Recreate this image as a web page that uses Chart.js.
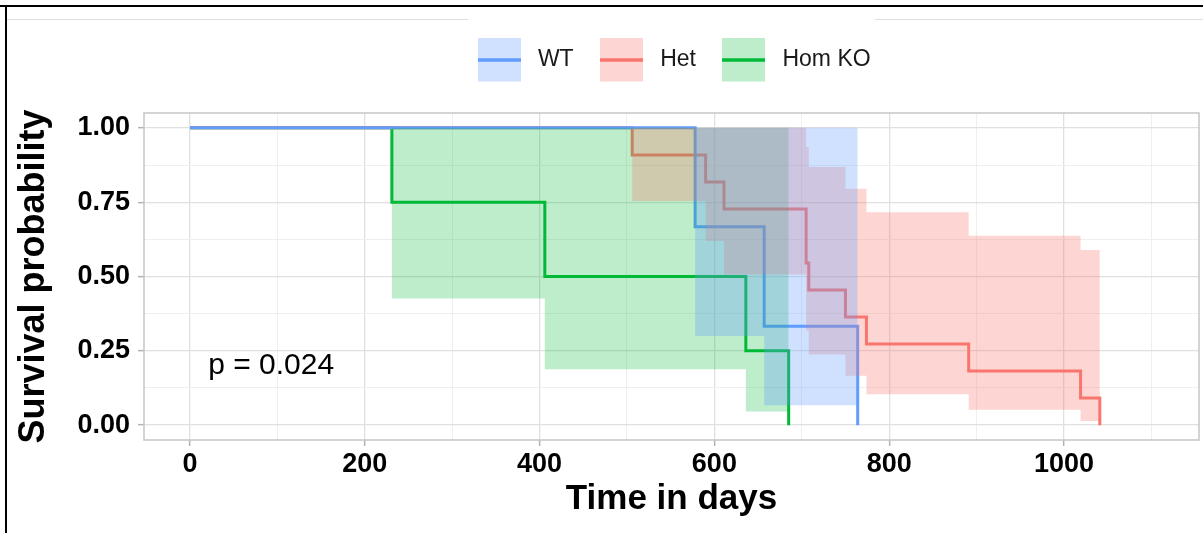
<!DOCTYPE html>
<html>
<head>
<meta charset="utf-8">
<title>Survival by genotype</title>
<script src="https://cdn.jsdelivr.net/npm/chart.js@4.4.1/dist/chart.umd.min.js"></script>
<style>
  html, body { margin: 0; padding: 0; background: #fff; }
  #wrap { position: relative; width: 1203px; height: 533px; overflow: hidden; }
  #km { position: absolute; left: 0; top: 0; }
  .frame-top { position: absolute; left: 0; top: 5px; width: 1203px; height: 2px; background: #000; }
  .frame-left { position: absolute; left: 5px; top: 5px; width: 2px; height: 528px; background: #000; }
  .rule { position: absolute; top: 19px; height: 1px; background: #dedede; }
</style>
</head>
<body>
<div id="wrap">
  <canvas id="km" width="1203" height="533"></canvas>
  <div class="rule" style="left:7px;width:461px"></div>
  <div class="rule" style="left:875px;width:328px"></div>
  <div class="frame-top"></div>
  <div class="frame-left"></div>
</div>
<script>
// ---- data -------------------------------------------------------------
const groups = ['WT', 'Het', 'Hom KO'];

// Kaplan-Meier estimates: event times (days) and survival after each time
const wtTime = [0, 578, 657, 764];
const wtSurv = [1, 0.667, 0.333, 0];
// 95% band holding on each interval [time[i], time[i+1])
const wtLower = [1, 0.300, 0.067];
const wtUpper = [1, 1, 1];

const hetTime = [0, 506, 590, 611, 705, 708, 750, 774, 891, 1019, 1041];
const hetSurv = [1, 0.909, 0.818, 0.727, 0.545, 0.455, 0.364, 0.273, 0.182, 0.091, 0];
const hetLower = [1, 0.754, 0.619, 0.507, 0.318, 0.238, 0.166, 0.104, 0.052, 0.014];
const hetUpper = [1, 1, 1, 1, 0.936, 0.868, 0.795, 0.716, 0.637, 0.589];

const homTime = [0, 231, 406, 636, 685];
const homSurv = [1, 0.75, 0.5, 0.25, 0];
const homLower = [1, 0.426, 0.188, 0.046];
const homUpper = [1, 1, 1, 1];

// axis breaks: labelled (major) and unlabelled (minor) grid positions
const xTickLabels = [0, 200, 400, 600, 800, 1000];
const xMinorBreaks = [100, 300, 500, 700, 900, 1100];
const yTickLabels = ['0.00', '0.25', '0.50', '0.75', '1.00'];

const pValueText = 'p = 0.024';
const pValueAt = [20.8, 0.2];

// ---- styling ------------------------------------------------------------
const FONT = "'Liberation Sans', Arial, Helvetica, sans-serif";
const lineColors = ['#619CFF', '#F8766D', '#00BA38'];
const bandColors = ['rgba(97,156,255,0.3)', 'rgba(248,118,109,0.3)', 'rgba(0,186,56,0.26)'];
const GRID_MAJOR = '#e0e0e0';
const GRID_MINOR = '#efefef';
const TICK_MARK = '#b3b3b3';

const series = [
  { time: wtTime, surv: wtSurv, lower: wtLower, upper: wtUpper },
  { time: hetTime, surv: hetSurv, lower: hetLower, upper: hetUpper },
  { time: homTime, surv: homSurv, lower: homLower, upper: homUpper }
];

function stepPoints(t, v) {
  return t.map((x, i) => ({ x: x, y: v[i] }));
}
// band values are per interval; the last interval is closed at the final event time
function bandPoints(t, b) {
  const pts = b.map((y, i) => ({ x: t[i], y: y }));
  pts.push({ x: t[t.length - 1], y: b[b.length - 1] });
  return pts;
}

// curves sit underneath the translucent bands; WT curve on top of the others
const datasets = [];
series.forEach((s, i) => {
  datasets.push({
    label: groups[i],
    data: stepPoints(s.time, s.surv),
    stepped: true,
    borderColor: lineColors[i],
    borderWidth: 3,
    pointRadius: 0,
    fill: false,
    order: 3 + i,
    xAxisID: 'x', yAxisID: 'y'
  });
});
// bands: Hom KO painted first, WT last
series.forEach((s, i) => {
  datasets.push({
    label: groups[i] + ' upper',
    data: bandPoints(s.time, s.upper),
    stepped: true,
    borderColor: 'rgba(0,0,0,0)',
    borderWidth: 0,
    pointRadius: 0,
    backgroundColor: bandColors[i],
    fill: '+1',
    order: i,
    xAxisID: 'x', yAxisID: 'y'
  });
  datasets.push({
    label: groups[i] + ' lower',
    data: bandPoints(s.time, s.lower),
    stepped: true,
    borderColor: 'rgba(0,0,0,0)',
    borderWidth: 0,
    pointRadius: 0,
    fill: false,
    order: i,
    xAxisID: 'x', yAxisID: 'y'
  });
});

// legend keys: band swatch with the curve colour through the middle
function legendKey(i) {
  const c = document.createElement('canvas');
  c.width = 43; c.height = 44;
  const g = c.getContext('2d');
  g.fillStyle = bandColors[i];
  g.fillRect(0, 0, 43, 44);
  g.strokeStyle = lineColors[i];
  g.lineWidth = 3.5;
  g.beginPath(); g.moveTo(0, 22); g.lineTo(43, 22); g.stroke();
  return c;
}
const keyImages = groups.map((g, i) => legendKey(i));

const isXMajor = v => xTickLabels.includes(v);
const yLabelFor = v => yTickLabels.find(l => Math.abs(Number(l) - v) < 1e-9);
const xBreaks = xTickLabels.concat(xMinorBreaks).sort((a, b) => a - b);

const panelBorder = {
  id: 'panelBorder',
  afterDatasetsDraw(chart) {
    const { ctx, chartArea: a } = chart;
    ctx.save();
    ctx.strokeStyle = '#c6c6c6';
    ctx.lineWidth = 1.5;
    ctx.strokeRect(a.left, a.top, a.right - a.left, a.bottom - a.top);
    ctx.restore();
  }
};

const pValueLabel = {
  id: 'pValueLabel',
  afterDatasetsDraw(chart) {
    const { ctx, scales } = chart;
    ctx.save();
    ctx.font = '30px ' + FONT;
    ctx.fillStyle = '#000';
    ctx.textAlign = 'left';
    ctx.textBaseline = 'middle';
    ctx.fillText(pValueText, scales.x.getPixelForValue(pValueAt[0]), scales.y.getPixelForValue(pValueAt[1]));
    ctx.restore();
  }
};

new Chart(document.getElementById('km'), {
  type: 'line',
  data: { datasets: datasets },
  plugins: [panelBorder, pValueLabel],
  options: {
    responsive: false,
    animation: false,
    devicePixelRatio: 1,
    events: [],
    layout: { padding: { top: 27.5, right: 4, bottom: 0, left: 0 } },
    plugins: {
      tooltip: { enabled: false },
      legend: {
        position: 'top',
        fullSize: false,
        align: 'center',
        labels: {
          usePointStyle: true,
          pointStyleWidth: 54,
          padding: 21,
          color: '#1a1a1a',
          font: { family: FONT, size: 23 },
          generateLabels: () => groups.map((g, i) => ({
            text: g, pointStyle: keyImages[i], datasetIndex: i,
            hidden: false, lineWidth: 0, fontColor: '#1a1a1a'
          }))
        }
      }
    },
    scales: {
      x: {
        type: 'linear',
        position: 'bottom',
        min: -52.6,
        max: 1154.5,
        afterBuildTicks: s => { s.ticks = xBreaks.map(v => ({ value: v })); },
        afterFit: s => { s.height = 93; },
        border: { display: false },
        grid: {
          color: c => isXMajor(c.tick.value) ? GRID_MAJOR : GRID_MINOR,
          lineWidth: c => isXMajor(c.tick.value) ? 1.3 : 1,
          tickLength: 6,
          tickWidth: 1.5,
          tickColor: c => isXMajor(c.tick.value) ? TICK_MARK : 'rgba(0,0,0,0)'
        },
        ticks: {
          autoSkip: false,
          maxRotation: 0,
          padding: 2,
          color: '#000',
          font: { family: FONT, size: 27, weight: 'bold' },
          callback: v => isXMajor(v) ? String(v) : ''
        },
        title: {
          display: true,
          text: 'Time in days',
          color: '#000',
          font: { family: FONT, size: 35, weight: 'bold' },
          padding: { top: 0, bottom: 13 }
        }
      },
      xTop: {
        type: 'linear',
        position: 'top',
        display: true,
        afterFit: s => { s.height = 31.5; },
        border: { display: false },
        grid: { display: false, drawTicks: false },
        ticks: { display: false }
      },
      y: {
        type: 'linear',
        position: 'left',
        min: -0.05,
        max: 1.05,
        afterFit: s => { s.width = 144; },
        border: { display: false },
        grid: {
          color: c => yLabelFor(c.tick.value) ? GRID_MAJOR : GRID_MINOR,
          lineWidth: c => yLabelFor(c.tick.value) ? 1.3 : 1,
          tickLength: 6,
          tickWidth: 1.5,
          tickColor: c => yLabelFor(c.tick.value) ? TICK_MARK : 'rgba(0,0,0,0)'
        },
        ticks: {
          stepSize: 0.125,
          includeBounds: false,
          autoSkip: false,
          padding: 8,
          color: '#000',
          font: { family: FONT, size: 27, weight: 'bold' },
          callback: v => yLabelFor(v) || ''
        },
        title: {
          display: true,
          text: 'Survival probability',
          color: '#000',
          font: { family: FONT, size: 36, weight: 'bold' },
          padding: { top: 12, bottom: 0 }
        }
      }
    }
  }
});
</script>
</body>
</html>
